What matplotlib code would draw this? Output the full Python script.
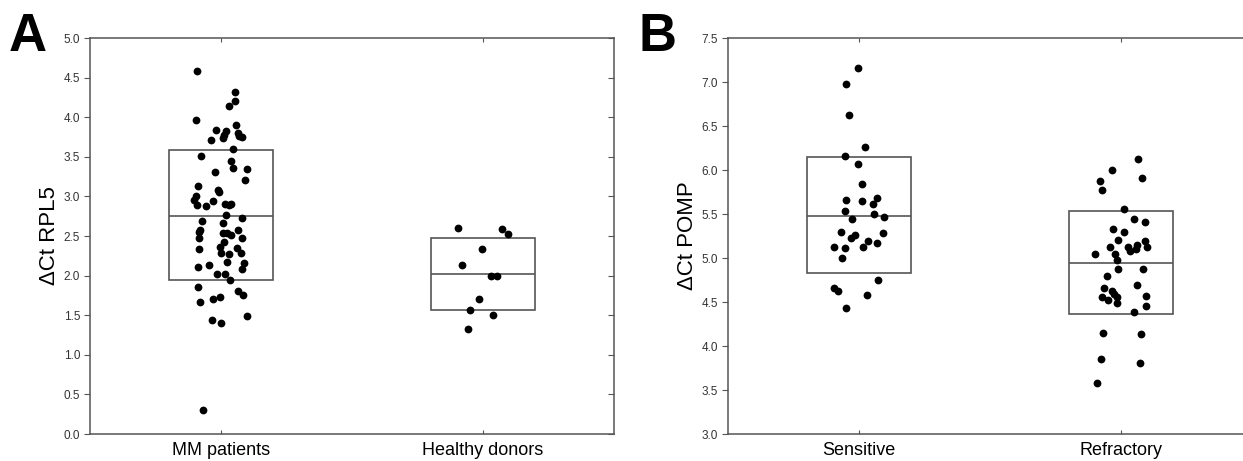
import matplotlib
matplotlib.use("Agg")
import matplotlib.pyplot as plt
import numpy as np

plt.rcParams['font.family'] = ['Liberation Sans', 'DejaVu Sans']

# ---- panel A data (RPL5) ----
groups_a = ['MM patients', 'Healthy donors']
mm_y = [4.58, 4.32, 4.21, 4.14, 3.96, 3.90, 3.84, 3.82, 3.77, 3.74, 3.80, 3.76,
        3.75, 3.71, 3.60, 3.51, 3.45, 3.36, 3.35, 3.31, 3.21, 3.13, 3.08, 3.05,
        3.00, 2.95, 2.94, 2.89, 2.88, 2.90, 2.89, 2.90, 2.77, 2.73, 2.69, 2.66,
        2.57, 2.55, 2.54, 2.54, 2.51, 2.57, 2.47, 2.48, 2.42, 2.36, 2.34, 2.35,
        2.28, 2.27, 2.28, 2.11, 2.14, 2.17, 2.16, 2.08, 2.02, 2.02, 1.94, 1.86,
        1.81, 1.75, 1.67, 1.71, 1.73, 1.49, 1.44, 1.40, 0.30]
mm_dx = [-0.092, 0.053, 0.053, 0.031, -0.095, 0.057, -0.019, 0.019, 0.011, 0.008,
         0.065, 0.069, 0.080, -0.038, 0.046, -0.076, 0.038, 0.046, 0.099, -0.023,
         0.092, -0.088, -0.011, -0.008, -0.095, -0.103, -0.031, -0.092, -0.057,
         0.015, 0.031, 0.038, 0.019, 0.080, -0.073, 0.008, -0.080, -0.084, 0.008,
         0.023, 0.038, 0.065, 0.080, -0.084, 0.011, -0.004, -0.084, 0.061, 0.0,
         0.031, 0.076, -0.088, -0.046, 0.023, 0.088, 0.080, -0.015, 0.015, 0.034,
         -0.088, 0.065, 0.084, -0.080, -0.031, -0.004, 0.099, -0.034, 0.0, -0.069]
hd_y = [2.60, 2.59, 2.52, 2.33, 2.13, 1.99, 1.99, 1.71, 1.57, 1.50, 1.33]
hd_dx = [-0.094, 0.071, 0.094, -0.002, -0.082, 0.032, 0.055, -0.017, -0.048,
         0.040, -0.059]
q1_a = [1.94, 1.57]
med_a = [2.75, 2.02]
q3_a = [3.58, 2.47]

# ---- panel B data (POMP) ----
groups_b = ['Sensitive', 'Refractory']
sens_y = [7.16, 6.98, 6.63, 6.26, 6.16, 6.07, 5.84, 5.66, 5.65, 5.68, 5.61, 5.53,
          5.44, 5.50, 5.47, 5.29, 5.26, 5.23, 5.28, 5.13, 5.11, 5.12, 5.19, 5.17,
          5.00, 4.75, 4.66, 4.63, 4.58, 4.43]
sens_dx = [-0.002, -0.048, -0.040, 0.021, -0.052, -0.002, 0.013, -0.048, 0.010,
           0.067, 0.055, -0.055, -0.025, 0.059, 0.097, -0.067, -0.017, -0.032,
           0.090, -0.097, -0.055, 0.017, 0.036, 0.067, -0.063, 0.074, -0.094,
           -0.082, 0.029, -0.048]
refr_y = [6.13, 6.00, 5.91, 5.88, 5.77, 5.56, 5.44, 5.41, 5.33, 5.29, 5.21, 5.13,
          5.12, 5.08, 5.10, 5.15, 5.19, 5.13, 5.04, 5.04, 4.98, 4.87, 4.87, 4.80,
          4.69, 4.66, 4.62, 4.56, 4.52, 4.59, 4.56, 4.49, 4.57, 4.45, 4.39, 4.15,
          4.14, 3.85, 3.81, 3.58]
refr_dx = [0.066, -0.033, 0.081, -0.079, -0.071, 0.013, 0.051, 0.093, -0.029,
           0.013, -0.010, -0.041, 0.028, 0.035, 0.058, 0.062, 0.093, 0.100, -0.098,
           -0.022, -0.014, -0.010, 0.085, -0.052, 0.062, -0.064, -0.033, -0.071,
           -0.048, -0.026, -0.014, -0.014, 0.097, 0.097, 0.051, -0.068, 0.077,
           -0.075, 0.074, -0.090]
q1_b = [4.83, 4.36]
med_b = [5.48, 4.94]
q3_b = [6.15, 5.53]

W, H = 1243, 461
fig = plt.figure(figsize=(W / 100, H / 100), dpi=100)

spine_col = '#555555'
text_col = '#333333'


def make_panel(rect, groups, ys, dxs, q1, med, q3, ylim, yticks, ylabel, letter, letter_x):
    ax = fig.add_axes(rect)
    pos = np.arange(len(groups))
    # boxes
    ax.bar(pos, np.array(q3) - np.array(q1), bottom=q1, width=0.4,
           fill=False, edgecolor=spine_col, linewidth=1.2, zorder=2)
    ax.hlines(med, pos - 0.2, pos + 0.2, color=spine_col, linewidth=1.2, zorder=2)
    # points
    for i, (y, dx) in enumerate(zip(ys, dxs)):
        ax.plot(i + np.array(dx), y, 'o', color='black', markersize=5.6,
                markeredgewidth=0, zorder=3)
    ax.set_xlim(-0.5, 1.5)
    ax.set_ylim(*ylim)
    ax.set_yticks(yticks)
    ax.set_yticklabels([f'{t:.1f}' for t in yticks], fontsize=8.5, color=text_col)
    ax.set_xticks(pos)
    ax.set_xticklabels(groups, fontsize=13, color='black')
    ax.tick_params(axis='x', direction='in', length=3, top=True, pad=6,
                   color=spine_col)
    ax.tick_params(axis='y', direction='out', length=4, pad=3, color=spine_col)
    sec = ax.secondary_yaxis('right')
    sec.set_yticks(yticks)
    sec.tick_params(direction='in', length=4, labelright=False, color=spine_col)
    sec.spines['right'].set_visible(False)
    for s in ax.spines.values():
        s.set_color(spine_col)
        s.set_linewidth(1.1)
    ax.set_ylabel(ylabel, fontsize=16, labelpad=3)
    fig.text(letter_x, 0.975, letter, fontsize=38, fontweight='bold',
             va='top', ha='left')
    return ax


make_panel([90 / W, 27 / H, 524 / W, 396 / H], groups_a, [mm_y, hd_y],
           [mm_dx, hd_dx], q1_a, med_a, q3_a, (0, 5.0),
           np.arange(0, 5.01, 0.5), 'ΔCt RPL5', 'A', 9 / W)
make_panel([728 / W, 27 / H, 524 / W, 396 / H], groups_b, [sens_y, refr_y],
           [sens_dx, refr_dx], q1_b, med_b, q3_b, (3.0, 7.5),
           np.arange(3.0, 7.51, 0.5), 'ΔCt POMP', 'B', 639 / W)

fig.savefig('out.png', dpi=100)
